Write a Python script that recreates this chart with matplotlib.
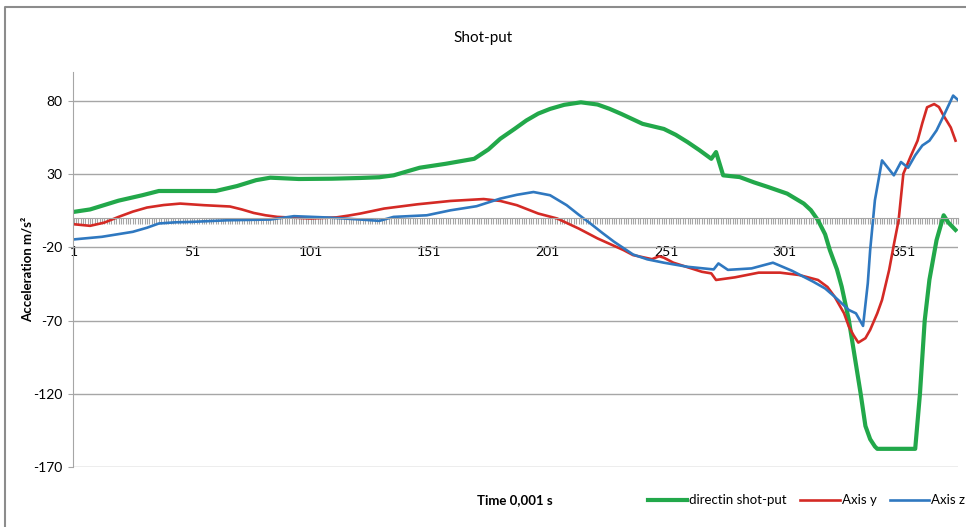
import matplotlib.pyplot as plt
from matplotlib.lines import Line2D

plt.rcParams['font.family'] = ['Lato', 'DejaVu Sans']
plt.rcParams['axes.unicode_minus'] = False

# readings (sample index, acceleration)
green_x = [1, 8, 20, 30, 37, 50, 61, 70, 78, 84, 96, 110, 122, 130, 136, 147, 158, 170,
           176, 181, 187, 192, 197, 202, 208, 215, 222, 227, 232, 241, 250, 255, 260, 265,
           270, 272, 275, 282, 288, 294, 302, 309, 312, 315, 318, 320, 323, 325, 328, 333,
           335, 337, 339, 340, 356, 358, 360, 362, 365, 368, 370, 373]
green_y = [4.3, 6, 12, 15.7, 18.6, 18.6, 18.6, 22, 26, 27.7, 26.8, 27, 27.5, 28, 29.3, 34.5,
           37.2, 40.6, 47, 54.3, 61, 66.8, 71.5, 74.7, 77.5, 79.2, 77.7, 74.8, 71.3, 64.5,
           61, 57, 52, 46.5, 40.6, 45.2, 29.3, 28.1, 24.5, 21.3, 16.8, 10, 5.5, -1.4, -11,
           -21.8, -35, -46.8, -69.5, -120, -142, -151, -156, -157.6, -157.6, -120, -70, -42,
           -15, 2, -3, -8]

red_x = [1, 8, 14, 20, 26, 32, 39, 46, 56, 67, 72, 77, 82, 87, 101, 112, 117, 122, 132, 146,
         160, 174, 181, 188, 197, 205, 214, 222, 233, 237, 245, 248, 250, 254, 266, 270, 272,
         280, 290, 299, 307, 315, 319, 322, 326, 328, 330, 332, 335, 337, 340, 342, 345, 347,
         349, 351, 354, 357, 359, 361, 364, 366, 368, 371, 373]
red_y = [-4.1, -5.2, -3, 0.9, 4.5, 7.3, 9, 10, 8.9, 8, 6, 3.6, 2, 0.9, -0.2, 0.6, 1.8, 3.2,
         6.6, 9.5, 11.8, 13.1, 11.8, 8.9, 3.2, -0.2, -7, -13.8, -21.8, -25.2, -28, -26, -27,
         -30.4, -36.6, -37.7, -42.2, -40.4, -37.2, -37.2, -38.8, -42.2, -47, -53.6, -65,
         -74, -80, -85, -82, -76.3, -65, -55.9, -35.4, -18, -1.4, 30.4, 42, 53, 65, 75.8, 78,
         76, 70, 62, 53]

blue_x = [1, 13, 26, 32, 37, 44, 51, 66, 84, 94, 108, 122, 130, 136, 150, 160, 171, 181, 188,
          195, 202, 209, 214, 219, 224, 229, 237, 243, 250, 260, 271, 273, 277, 287, 296, 304,
          313, 318, 322, 328, 331, 334, 336, 337, 339, 342, 347, 350, 353, 356, 359, 362, 365,
          368, 372, 374]
blue_y = [-14.5, -12.7, -9.3, -6.5, -3.6, -2.8, -2.5, -1.4, -0.9, 1.4, 0.5, -0.9, -1.8, 0.9,
          2, 5.4, 8.2, 13.4, 16, 17.9, 15.7, 8.9, 2.5, -3.6, -10, -16.1, -24.8, -28.1, -30.4,
          -33.2, -35, -30.9, -35.3, -34.3, -30.4, -35.9, -43.4, -48, -53.6, -62.7, -65,
          -73.6, -44.5, -21.8, 12.3, 39.5, 29.3, 38.4, 34.5, 43, 49.7, 53, 60, 70, 83.8, 80.9]

y_ticks = [-170, -120, -70, -20, 30, 80]
x_labels = [1, 51, 101, 151, 201, 251, 301, 351]

fig = plt.figure(figsize=(9.66, 5.27), dpi=100)
ax = fig.add_axes([0.0756, 0.1139, 0.916, 0.7497])

ax.set_ylim(-170, 100)
ax.set_xlim(0.8, 374)
ax.set_yticks(y_ticks)
ax.yaxis.grid(True, color='#a6a6a6', linewidth=1)
ax.set_axisbelow(True)

ax.plot(green_x, green_y, color='#22a84a', linewidth=3, label='directin shot-put')
ax.plot(red_x, red_y, color='#d42a25', linewidth=1.9, label='Axis y')
ax.plot(blue_x, blue_y, color='#2f78c0', linewidth=1.9, label='Axis z')

# category axis crossing at zero, one tick per sample
ax.spines['top'].set_visible(False)
ax.spines['right'].set_visible(False)
ax.spines['bottom'].set_position(('data', 0))
ax.spines['bottom'].set_color('#a6a6a6')
ax.spines['left'].set_color('#a6a6a6')
ax.set_xticks(range(1, 375), minor=True)
ax.set_xticks(x_labels)
ax.tick_params(axis='x', which='both', direction='out', length=4.5, width=0.8,
               color='#a6a6a6')
ax.tick_params(axis='x', which='major', pad=15.5, labelsize=10)
ax.tick_params(axis='y', length=3.5, color='#a6a6a6', pad=4, labelsize=10)

ax.set_ylabel('Acceleration m/s²', fontsize=9.5, fontweight='bold', labelpad=0)
fig.text(0.5, 0.928, 'Shot-put', ha='center', va='center', fontsize=11)
fig.text(0.533, 0.051, 'Time 0,001 s', ha='center', va='center', fontsize=9.5,
         fontweight='bold')

fig.legend(loc='center', bbox_to_anchor=(0.835, 0.051), ncol=3, frameon=False,
           fontsize=9.5, handlelength=3.0, handletextpad=0.15, columnspacing=1.0)

# chart area border
fig.add_artist(Line2D([5 / 966, 5 / 966, 1], [0, 1 - 7 / 527, 1 - 7 / 527],
                      transform=fig.transFigure, color='#8c8c8c', linewidth=1.5))

fig.savefig('out.png', dpi=100)
